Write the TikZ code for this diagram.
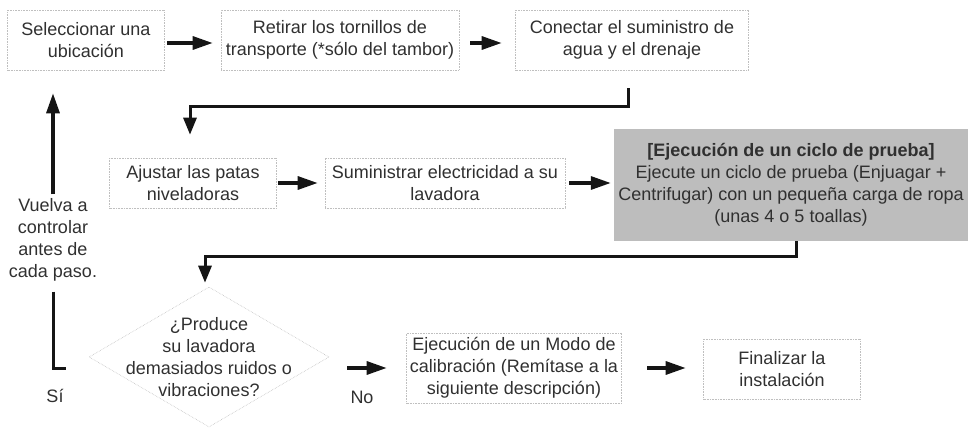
\documentclass[tikz,border=0pt]{standalone}
\usepackage{fontspec}
\setmainfont{Liberation Sans}
\usetikzlibrary{arrows.meta,shapes.geometric}
\definecolor{ink}{HTML}{303030}
\definecolor{arrowc}{HTML}{151515}
\definecolor{boxfill}{HTML}{BDBDBD}
\begin{document}
\begin{tikzpicture}[x=1pt,y=-1pt,
  txt/.style={align=center,text=ink,font=\fontsize{18}{22}\selectfont,inner sep=0pt},
  boxline/.style={draw=black!25,densely dotted,line width=0.6pt},
  stepbox/.style={txt,boxline,rectangle},
  graybox/.style={txt,rectangle,fill=boxfill,draw=none},
  arr/.style={draw=arrowc,line width=3.2pt,-{Triangle[length=20pt,width=13pt]}},
  darr/.style={draw=arrowc,line width=3pt,-{Triangle[length=17pt,width=13pt]}},
  conn/.style={draw=arrowc,line width=3pt}]
\useasboundingbox (0,0) rectangle (968,430);

% row 1
\node[stepbox,minimum width=157pt,minimum height=60pt] (b1) at (86,40) {Seleccionar una\\ubicación};
\node[stepbox,minimum width=238pt,minimum height=60pt] (b2) at (340,40) {Retirar los tornillos de\\transporte (*sólo del tambor)};
\node[stepbox,minimum width=233pt,minimum height=60pt] (b3) at (632,40) {Conectar el suministro de\\agua y el drenaje};

% row 2
\node[stepbox,minimum width=167pt,minimum height=50pt] (b4) at (193,183) {Ajustar las patas\\niveladoras};
\node[stepbox,minimum width=240pt,minimum height=50pt] (b5) at (445,183) {Suministrar electricidad a su\\lavadora};
\node[graybox,minimum width=354pt,minimum height=112pt] (b6) at (791,185) {\textbf{[Ejecución de un ciclo de prueba]}\\Ejecute un ciclo de prueba (Enjuagar +\\Centrifugar) con un pequeña carga de ropa\\(unas 4 o 5 toallas)};

% row 3
\node[diamond,boxline,minimum width=240pt,minimum height=140pt,inner sep=0pt] (d) at (209,357) {};
\node[txt] (dt) at (d.center) {¿Produce\\su lavadora\\demasiados ruidos o\\vibraciones?};
\node[stepbox,minimum width=215pt,minimum height=70pt] (b7) at (514,368) {Ejecución de un Modo de\\calibración (Remítase a la\\siguiente descripción)};
\node[stepbox,minimum width=157pt,minimum height=60pt] (b8) at (782,369) {Finalizar la\\instalación};

% labels
\node[txt] (vt) at (53,240) {Vuelva a\\controlar\\antes de\\cada paso.};
\node[txt] (si) at (55,396) {Sí};
\node[txt] (no) at (362,397) {No};

% horizontal arrows
\draw[arr,shorten <=2.5pt,shorten >=8pt] ([yshift=-3pt]b1.east) -- ([yshift=-3pt]b2.west);
\draw[arr,shorten <=11pt,shorten >=13.5pt] ([yshift=-3pt]b2.east) -- ([yshift=-3pt]b3.west);
\draw[arr,shorten <=1.5pt,shorten >=7pt] (b4.east) -- (b5.west);
\draw[arr,shorten <=4pt,shorten >=3pt] (b5.east) -- (b5.east -| b6.west);
\draw[arr,shorten <=18pt,shorten >=19.5pt] (d.east |- b7.west) -- (b7.west);
\draw[arr,shorten <=25.5pt,shorten >=17.5pt] (b7.east) -- (b7.east -| b8.west);

% elbow connectors
\coordinate (k1) at (628,107);
\draw[darr,shorten <=18pt,shorten >=23pt] (b3.south -| k1) -- (k1) -| ([xshift=-3pt]b4.north);
\coordinate (k2) at (796,256);
\draw[darr,shorten >=4pt] (b6.south -| k2) -- (k2) -| ([xshift=-4pt]d.north);

% loop back
\coordinate (foot) at (66,368);
\draw[conn] ([yshift=-10pt]vt.south) |- (foot);
\draw[arr,shorten <=4pt,shorten >=23pt] (vt.north) -- (b1.south -| vt.north);
\end{tikzpicture}
\end{document}
